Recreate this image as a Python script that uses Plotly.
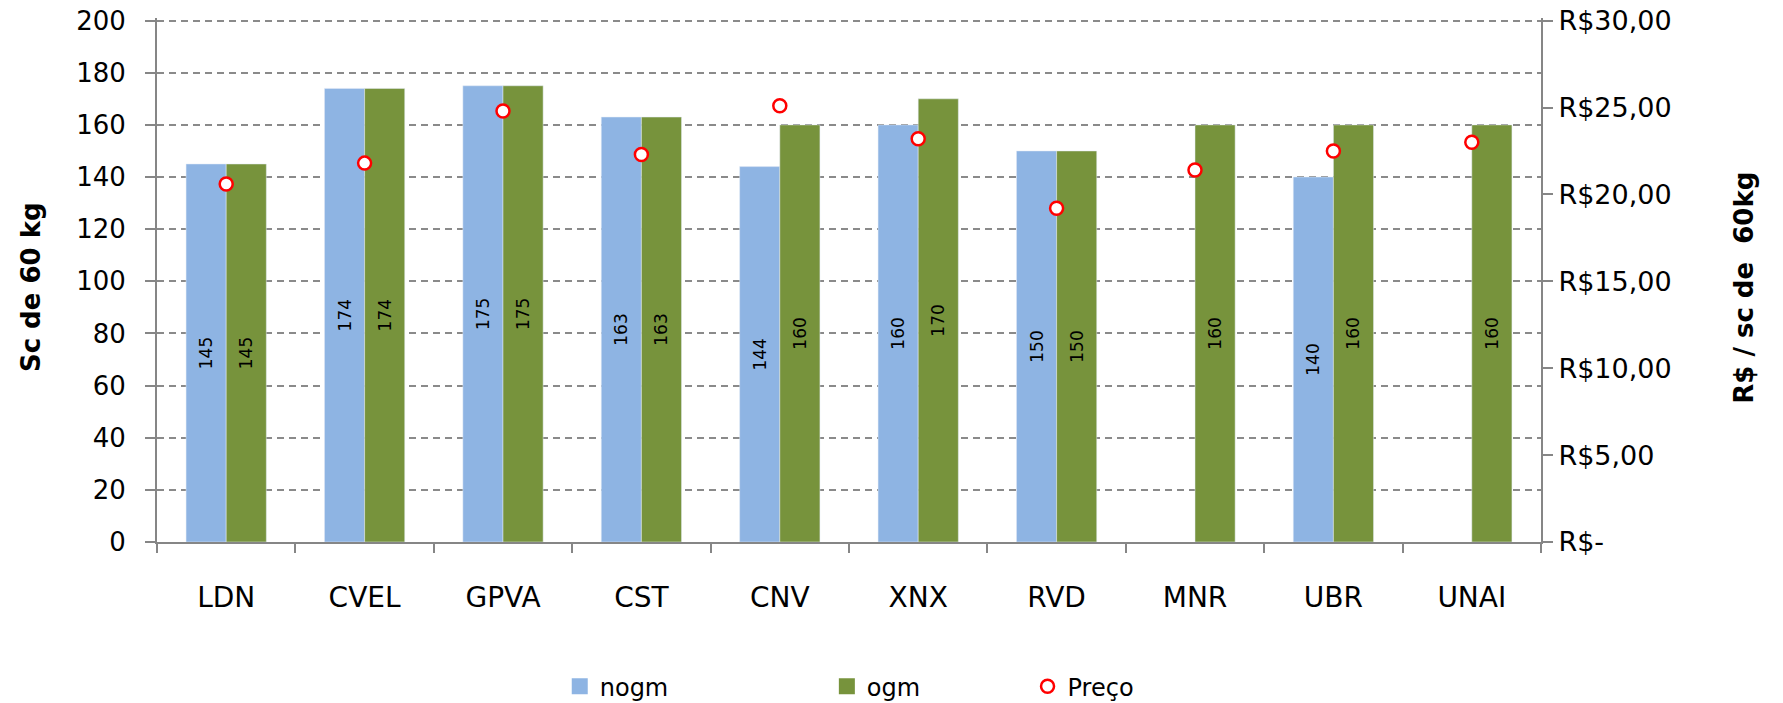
import plotly.graph_objects as go

categories = ["LDN", "CVEL", "GPVA", "CST", "CNV", "XNX", "RVD", "MNR", "UBR", "UNAI"]
nogm = [145, 174, 175, 163, 144, 160, 150, None, 140, None]
ogm = [145, 174, 175, 163, 160, 170, 150, 160, 160, 160]
preco = [20.6, 21.8, 24.8, 22.3, 25.1, 23.2, 19.2, 21.4, 22.5, 23.0]

left_ticks = [0, 20, 40, 60, 80, 100, 120, 140, 160, 180, 200]
right_tickvals = [0, 5, 10, 15, 20, 25, 30]
right_ticktext = ["R$-", "R$5,00", "R$10,00", "R$15,00", "R$20,00", "R$25,00", "R$30,00"]

FONT = "DejaVu Sans"
AX = "#868686"
BLUE = "#8EB4E3"
GREEN = "#77933C"

fig = go.Figure()
fig.add_trace(go.Bar(
    x=categories, y=nogm, name="nogm", marker_color=BLUE,
    text=[("" if v is None else str(v)) for v in nogm],
    textposition="inside", insidetextanchor="middle", textangle=-90,
    textfont=dict(family=FONT, size=17, color="black"),
    showlegend=False,
))
fig.add_trace(go.Bar(
    x=categories, y=ogm, name="ogm", marker_color=GREEN,
    text=[str(v) for v in ogm],
    textposition="inside", insidetextanchor="middle", textangle=-90,
    textfont=dict(family=FONT, size=17, color="black"),
    showlegend=False,
))
fig.add_trace(go.Scatter(
    x=categories, y=preco, name="Preço", mode="markers", yaxis="y2",
    marker=dict(symbol="circle", size=13, color="white",
                line=dict(color="#FF0000", width=2.5)),
    legend="legend3",
))
# legend-only entries for the bar series (bigger square swatches)
fig.add_trace(go.Scatter(x=[None], y=[None], name="nogm", mode="markers",
                         marker=dict(symbol="square", size=16, color=BLUE),
                         legend="legend"))
fig.add_trace(go.Scatter(x=[None], y=[None], name="ogm", mode="markers",
                         marker=dict(symbol="square", size=16, color=GREEN),
                         legend="legend2"))

legend_common = dict(orientation="h", yanchor="middle", y=-0.276, xanchor="left",
                     font=dict(family=FONT, size=24, color="black"),
                     bgcolor="rgba(0,0,0,0)", itemsizing="trace")

fig.update_layout(
    width=1783, height=703,
    margin=dict(l=157, r=242, t=18, b=161, autoexpand=False),
    plot_bgcolor="white", paper_bgcolor="white",
    font=dict(family=FONT, size=26, color="black"),
    barmode="group", bargap=0.42, bargroupgap=0,
    showlegend=True,
    legend=dict(x=0.291, **legend_common),
    legend2=dict(x=0.484, **legend_common),
    legend3=dict(x=0.629, **legend_common),
    xaxis=dict(
        type="category", range=[-0.5, 9.5], showline=True, linecolor=AX, linewidth=2,
        ticks="outside", tickson="boundaries", ticklen=9, tickcolor=AX, tickwidth=2,
        ticklabelstandoff=29, showgrid=False, automargin=False,
        tickfont=dict(family=FONT, size=28, color="black"),
    ),
    yaxis=dict(
        range=[0, 201], tickvals=left_ticks, showline=True, linecolor=AX, linewidth=2,
        ticks="outside", ticklen=10, tickcolor=AX, tickwidth=2,
        ticklabelstandoff=14, automargin=False,
        showgrid=True, gridcolor="#8A8A8A", gridwidth=2, griddash="7px,5px",
        zeroline=False,
        tickfont=dict(family=FONT, size=26, color="black"),
    ),
    yaxis2=dict(
        range=[0, 30.15], tickvals=right_tickvals, ticktext=right_ticktext,
        overlaying="y", side="right", showline=True, linecolor=AX, linewidth=2,
        ticks="outside", ticklen=10, tickcolor=AX, tickwidth=2,
        ticklabelstandoff=0, showgrid=False, zeroline=False, automargin=False,
        tickfont=dict(family=FONT, size=27, color="black"),
    ),
    annotations=[
        dict(text="<b>Sc de 60 kg</b>", xref="paper", yref="paper",
             x=-0.0905, y=0.486, xanchor="center", yanchor="middle",
             textangle=-90, showarrow=False,
             font=dict(family=FONT, size=26, color="black")),
        dict(text="<b>R$ / sc de  60kg</b>", xref="paper", yref="paper",
             x=1.147, y=0.486, xanchor="center", yanchor="middle",
             textangle=-90, showarrow=False,
             font=dict(family=FONT, size=26, color="black")),
    ],
)

fig.write_html("out.html", config={"displayModeBar": False},
               post_script="document.body.style.margin='0';")
